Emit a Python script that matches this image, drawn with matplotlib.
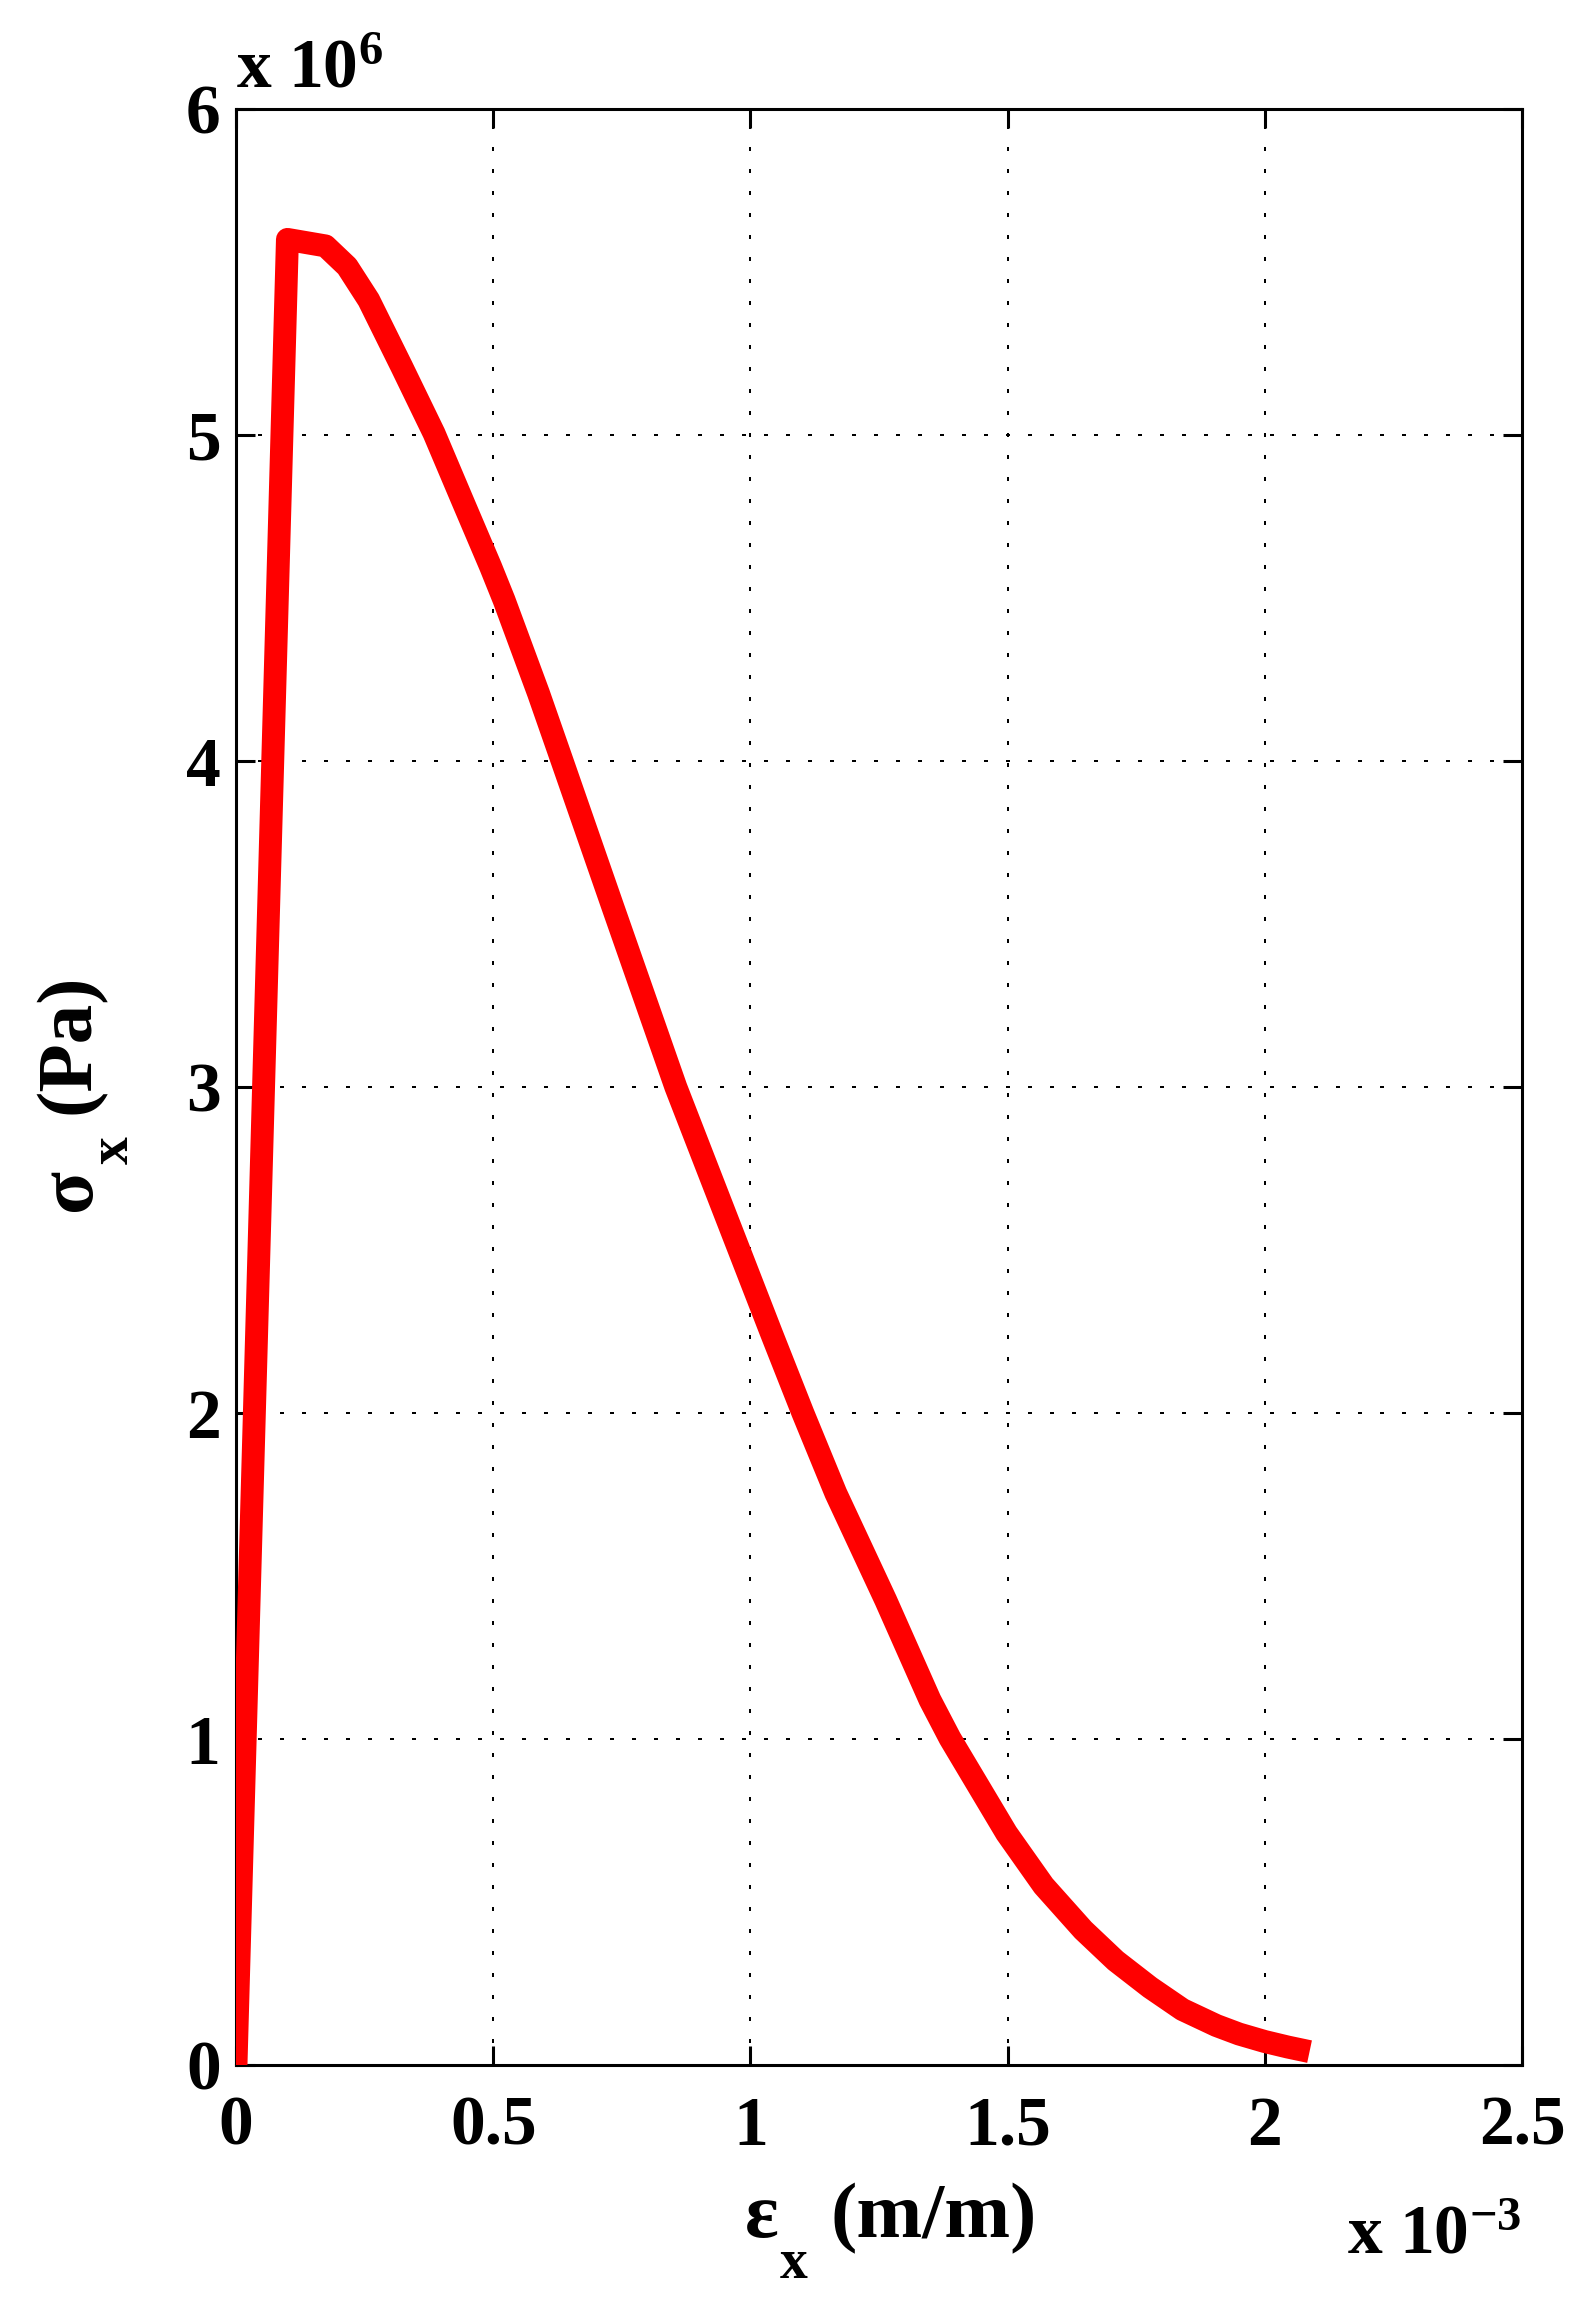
import matplotlib
matplotlib.use("Agg")
import matplotlib.pyplot as plt

# Data (strain in 1e-3 m/m, stress in 1e6 Pa)
strain_e3 = [0.0, 0.100, 0.174, 0.216, 0.258, 0.322, 0.385, 0.440, 0.495, 0.521,
             0.588, 0.634, 0.732, 0.855, 0.915, 0.978, 1.041, 1.102, 1.166,
             1.263, 1.349, 1.388, 1.498, 1.570, 1.647, 1.710, 1.777, 1.840, 1.906,
             1.950, 2.000, 2.045, 2.087]
stress_e6 = [0.0, 5.600, 5.580, 5.517, 5.414, 5.210, 5.005, 4.800, 4.596, 4.494,
             4.208, 4.000, 3.555, 3.000, 2.756, 2.500, 2.244, 2.000, 1.754,
             1.426, 1.120, 1.002, 0.711, 0.550, 0.414, 0.320, 0.238, 0.170, 0.121,
             0.095, 0.072, 0.055, 0.041]

x_ticks = [0, 0.5, 1, 1.5, 2, 2.5]
x_ticklabels = ["0", "0.5", "1", "1.5", "2", "2.5"]
y_ticks = [0, 1, 2, 3, 4, 5, 6]
y_ticklabels = ["0", "1", "2", "3", "4", "5", "6"]

FONT = "Liberation Serif"
plt.rcParams["font.family"] = [FONT, "DejaVu Serif"]
plt.rcParams["font.weight"] = "bold"
plt.rcParams["mathtext.default"] = "regular"

W, H = 1580, 2299
fig = plt.figure(figsize=(W / 100, H / 100), dpi=100)
ax = fig.add_axes([236 / W, 1 - 2065 / H, (1522 - 236) / W, (2065 - 109) / H])

ax.plot(strain_e3, stress_e6, color="#ff0000", lw=16.5,
        solid_capstyle="butt", solid_joinstyle="round", zorder=3)

ax.set_xlim(0, 2.5)
ax.set_ylim(0, 6)
ax.set_xticks(x_ticks)
ax.set_xticklabels(x_ticklabels)
ax.set_yticks(y_ticks)
ax.set_yticklabels(y_ticklabels)

ax.grid(True, color="black", lw=1.44, linestyle=(0, (2, 9)))
ax.set_axisbelow(True)

for s in ax.spines.values():
    s.set_linewidth(2.2)
    s.set_color("black")

ax.tick_params(which="both", direction="in", length=13.5, width=2.2,
               top=True, right=True, labelsize=50, colors="black")
ax.tick_params(axis="x", pad=22)
ax.tick_params(axis="y", pad=11)
for lab in ax.get_xticklabels() + ax.get_yticklabels():
    lab.set_fontweight("bold")
    lab.set_fontfamily(FONT)


def px(x, y):
    return x / W, 1 - y / H


LABEL_FS = 57
SUB_FS = 40

# x axis label: epsilon with subscript x, then (m/m)
fig.text(*px(745, 2237), "ε", fontsize=LABEL_FS, fontweight="bold",
         ha="left", va="baseline")
fig.text(*px(780, 2278), "x", fontsize=SUB_FS, fontweight="bold",
         ha="left", va="baseline")
fig.text(*px(830, 2237), "(m/m)", fontsize=LABEL_FS, fontweight="bold",
         ha="left", va="baseline")

# y axis label (rotated): sigma with subscript x, then (Pa)
fig.text(*px(90, 1211), "σ", fontsize=LABEL_FS, fontweight="bold",
         ha="left", va="baseline", rotation=90, rotation_mode="anchor")
fig.text(*px(128, 1164), "x", fontsize=SUB_FS, fontweight="bold",
         ha="left", va="baseline", rotation=90, rotation_mode="anchor")
fig.text(*px(89, 1114), "(Pa)", fontsize=LABEL_FS, fontweight="bold",
         ha="left", va="baseline", rotation=90, rotation_mode="anchor")

# multiplier texts
ax.text(0.0, (2065 - 87) / 1956, "x 10$^{6}$", transform=ax.transAxes,
        ha="left", va="baseline", fontsize=50, fontweight="bold")
ax.text(1.0, (2065 - 2254) / 1956, "x 10$^{-3}$", transform=ax.transAxes,
        ha="right", va="baseline", fontsize=50, fontweight="bold")

fig.savefig("out.png", dpi=100, facecolor="white")
